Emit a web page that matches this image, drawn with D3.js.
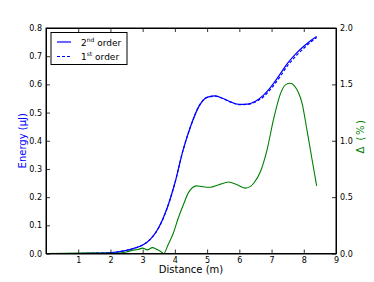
<!DOCTYPE html>
<html>
<head>
<meta charset="utf-8">
<script src="https://cdn.jsdelivr.net/npm/d3@7"></script>
<style>
body { margin: 0; background: #fff; }
text { font-family: "DejaVu Sans", sans-serif; }
</style>
</head>
<body>
<div id="chart"></div>
<script>
var svgWidth = 374;
var svgHeight = 282;
var margin = ({top: 28, right: 38, bottom: 28.5, left: 46});

// energy curves (uJ) vs distance (m)
var distE = [0, 0.5, 1, 1.5, 2, 2.25, 2.5, 2.75, 3, 3.25, 3.5, 3.75, 4, 4.25, 4.5, 4.75, 5, 5.25, 5.5, 5.75, 6, 6.25, 6.5, 6.75, 7, 7.25, 7.5, 7.75, 8, 8.2, 8.4];
var energy2nd = [0, 0, 0, 0.001, 0.003, 0.006, 0.011, 0.019, 0.03, 0.052, 0.092, 0.158, 0.25, 0.365, 0.455, 0.523, 0.554, 0.559, 0.55, 0.537, 0.529, 0.53, 0.54, 0.562, 0.594, 0.634, 0.675, 0.708, 0.735, 0.754, 0.77];
var energy1st = [0, 0, 0, 0.001, 0.003, 0.006, 0.011, 0.019, 0.03, 0.052, 0.092, 0.158, 0.25, 0.365, 0.455, 0.523, 0.554, 0.558, 0.549, 0.536, 0.528, 0.529, 0.538, 0.556, 0.587, 0.625, 0.667, 0.700, 0.728, 0.749, 0.766];

// relative difference (%)
var distD = [0, 1, 1.5, 2, 2.3, 2.5, 2.7, 2.85, 3.0, 3.15, 3.3, 3.45, 3.55, 3.65, 3.8, 3.95, 4.1, 4.26, 4.42, 4.55, 4.66, 4.84, 5.1, 5.36, 5.67, 5.93, 6.19, 6.35, 6.45, 6.66, 6.86, 7.07, 7.28, 7.45, 7.57, 7.7, 7.83, 7.95, 8.09, 8.25, 8.4];
var delta = [0, 0.005, 0.003, 0.002, 0.005, 0.013, 0.03, 0.035, 0.048, 0.032, 0.052, 0.035, 0.02, 0.0, 0.085, 0.18, 0.31, 0.43, 0.54, 0.585, 0.60, 0.593, 0.587, 0.61, 0.634, 0.61, 0.58, 0.595, 0.625, 0.73, 0.92, 1.2, 1.42, 1.5, 1.51, 1.49, 1.43, 1.33, 1.11, 0.845, 0.60];

var xTicks = [1, 2, 3, 4, 5, 6, 7, 8, 9];
var yLeftTicks = [0, 0.1, 0.2, 0.3, 0.4, 0.5, 0.6, 0.7, 0.8];
var yRightTicks = [0, 0.5, 1.0, 1.5, 2.0];
var legendLabels = [["2", "nd", " order"], ["1", "st", " order"]];

var svg = d3.select("#chart")
    .append("svg")
    .attr("width", svgWidth)
    .attr("height", svgHeight);

var xScale = d3.scaleLinear()
    .domain([0, 9])
    .range([margin.left, svgWidth - margin.right]);

var yLeft = d3.scaleLinear()
    .domain([0, 0.8])
    .range([svgHeight - margin.bottom, margin.top]);

var yRight = d3.scaleLinear()
    .domain([0, 2.0])
    .range([svgHeight - margin.bottom, margin.top]);

var x0 = xScale.range()[0], x1 = xScale.range()[1];
var yb = yLeft.range()[0], yt = yLeft.range()[1];

// lines
var lineE = d3.line()
    .x(d => xScale(d[0]))
    .y(d => yLeft(d[1]))
    .curve(d3.curveMonotoneX);

var lineD = d3.line()
    .x(d => xScale(d[0]))
    .y(d => yRight(d[1]))
    .curve(d3.curveMonotoneX);

svg.append("path")
    .datum(distE.map((d, i) => [d, energy2nd[i]]))
    .attr("d", lineE)
    .attr("fill", "none")
    .attr("stroke", "#0000ff")
    .attr("stroke-width", 1.2);

svg.append("path")
    .datum(distE.map((d, i) => [d, energy1st[i]]))
    .attr("d", lineE)
    .attr("fill", "none")
    .attr("stroke", "#0000ff")
    .attr("stroke-width", 1.2)
    .attr("stroke-dasharray", "3,2");

svg.append("path")
    .datum(distD.map((d, i) => [d, delta[i]]))
    .attr("d", lineD)
    .attr("fill", "none")
    .attr("stroke", "#008000")
    .attr("stroke-width", 1.1);

// axes, ticks pointing inward
var xAxis = svg.append("g")
    .attr("transform", "translate(0," + yb + ")")
    .call(d3.axisBottom(xScale).tickValues(xTicks).tickSizeInner(-4).tickSizeOuter(0).tickPadding(4).tickFormat(d3.format("d")));

var xTop = svg.append("g")
    .attr("transform", "translate(0," + yt + ")")
    .call(d3.axisTop(xScale).tickValues(xTicks).tickSizeInner(-4).tickSizeOuter(0).tickFormat(""));

var yAxisL = svg.append("g")
    .attr("transform", "translate(" + x0 + ",0)")
    .call(d3.axisLeft(yLeft).tickValues(yLeftTicks).tickSizeInner(-4).tickSizeOuter(0).tickPadding(4).tickFormat(d3.format(".1f")));

var yAxisR = svg.append("g")
    .attr("transform", "translate(" + x1 + ",0)")
    .call(d3.axisRight(yRight).tickValues(yRightTicks).tickSizeInner(-4).tickSizeOuter(0).tickPadding(4).tickFormat(d3.format(".1f")));

svg.selectAll(".domain").attr("stroke", "#000").attr("stroke-width", 1);
svg.selectAll(".tick line").attr("stroke", "#000").attr("stroke-width", 0.8);
svg.selectAll(".tick text")
    .attr("font-size", 8)
    .attr("font-family", "DejaVu Sans, sans-serif")
    .attr("fill", "#000");

// frame
svg.append("rect")
    .attr("x", x0)
    .attr("y", yt)
    .attr("width", x1 - x0)
    .attr("height", yb - yt)
    .attr("fill", "none")
    .attr("stroke", "#000")
    .attr("stroke-width", 1);

// axis labels
svg.append("text")
    .attr("x", (x0 + x1) / 2)
    .attr("y", 273)
    .attr("text-anchor", "middle")
    .attr("font-size", 10)
    .text("Distance (m)");

svg.append("text")
    .attr("transform", "translate(26," + (yt + yb) / 2 + ") rotate(-90)")
    .attr("text-anchor", "middle")
    .attr("font-size", 10)
    .attr("fill", "#0000ff")
    .text("Energy (\u03bcJ)");

svg.append("text")
    .attr("transform", "translate(364,136) rotate(-90)")
    .attr("text-anchor", "middle")
    .attr("font-size", 10)
    .attr("fill", "#008000")
    .attr("letter-spacing", 1.5)
    .text("\u0394  (%)");

// legend
var legend = svg.append("g")
    .attr("transform", "translate(51,32.5)");

legend.append("rect")
    .attr("width", 76)
    .attr("height", 32)
    .attr("fill", "#fff")
    .attr("stroke", "#000")
    .attr("stroke-width", 1);

legend.selectAll(".legLine")
    .data(legendLabels)
    .enter()
    .append("line")
    .attr("x1", 6)
    .attr("x2", 20)
    .attr("y1", (d, i) => 9.5 + i * 14.5)
    .attr("y2", (d, i) => 9.5 + i * 14.5)
    .attr("stroke", "#0000ff")
    .attr("stroke-width", 1.2)
    .attr("stroke-dasharray", (d, i) => i == 1 ? "3,2" : null);

var legText = legend.selectAll(".legText")
    .data(legendLabels)
    .enter()
    .append("text")
    .attr("x", 30)
    .attr("y", (d, i) => 13 + i * 14.5)
    .attr("font-size", 9);

legText.append("tspan").text(d => d[0]);
legText.append("tspan").attr("font-size", 6).attr("dy", -4).text(d => d[1]);
legText.append("tspan").attr("dy", 4).text(d => d[2]);
</script>
</body>
</html>
